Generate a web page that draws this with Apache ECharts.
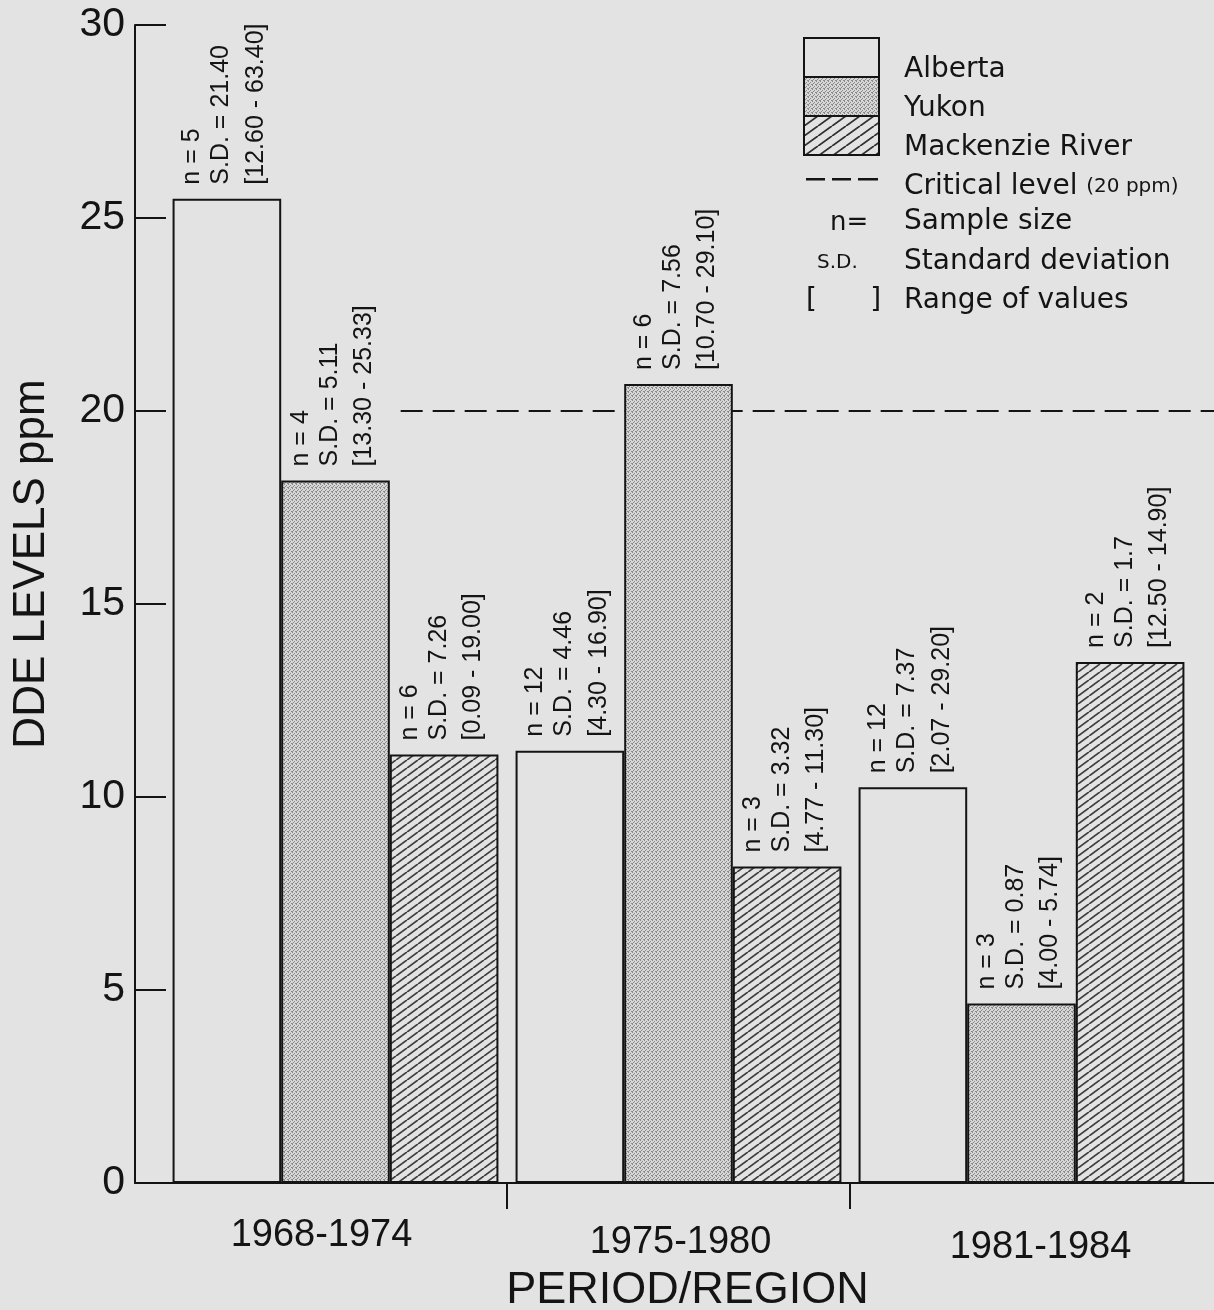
<!DOCTYPE html>
<html><head><meta charset="utf-8">
<script src="https://cdn.jsdelivr.net/npm/echarts@6/dist/echarts.min.js"></script>
<style>html,body{margin:0;padding:0;background:#e3e3e3}#c{width:1214px;height:1310px}</style>
</head><body><div id="c"></div>
<script>
// ---------- data ----------
const periods = ['1968-1974', '1975-1980', '1981-1984'];
const regions = ['Alberta', 'Yukon', 'Mackenzie River'];
const albertaDDE = [25.5, 11.2, 10.25];
const yukonDDE = [18.2, 20.7, 4.65];
const mackenzieDDE = [11.1, 8.2, 13.5];
const albertaN = [5, 12, 12];
const yukonN = [4, 6, 3];
const mackenzieN = [6, 3, 2];
const albertaSD = ['21.40', '4.46', '7.37'];
const yukonSD = ['5.11', '7.56', '0.87'];
const mackenzieSD = ['7.26', '3.32', '1.7'];
const albertaRange = ['12.60 - 63.40', '4.30 - 16.90', '2.07 - 29.20'];
const yukonRange = ['13.30 - 25.33', '10.70 - 29.10', '4.00 - 5.74'];
const mackenzieRange = ['0.09 - 19.00', '4.77 - 11.30', '12.50 - 14.90'];
const criticalLevel = 20;
const criticalName = 'Critical level';
const yMin = 0, yMax = 30, yStep = 5;

// ---------- styles ----------
const BG = '#e3e3e3';
const INK = '#141414';
const SANS = 'Liberation Sans, Arial, sans-serif';
const WIDE = 'DejaVu Sans, sans-serif';

function hatch(w, h, lw, color, bg) {
  const c = document.createElement('canvas');
  c.width = w; c.height = h;
  const g = c.getContext('2d');
  g.fillStyle = bg; g.fillRect(0, 0, w, h);
  g.strokeStyle = color; g.lineWidth = lw;
  g.beginPath();
  for (const dx of [-w, 0, w]) { g.moveTo(dx, h); g.lineTo(dx + w, 0); }
  g.stroke();
  return c;
}
function stipple(bg, dot) {
  const c = document.createElement('canvas');
  c.width = 4; c.height = 4;
  const g = c.getContext('2d');
  g.fillStyle = bg; g.fillRect(0, 0, 4, 4);
  g.fillStyle = dot;
  [[0,0],[2,1],[1,2],[3,3],[0,3]].forEach(p => g.fillRect(p[0], p[1], 1, 1));
  return c;
}
const fillAlberta = BG;
const fillYukon = { image: stipple('#d6d6d6', '#8a8a8a'), repeat: 'repeat' };
const fillMack = { image: hatch(11, 8, 1.8, '#404040', BG), repeat: 'repeat' };
const fillMackLegend = { image: hatch(14, 10, 1.8, '#303030', BG), repeat: 'repeat' };
const dashIcon = 'path://M0,0h0.1v0.1h-0.1z M74.9,38.9h0.1v0.1h-0.1z M2,24h19v2.4h-19z M28,24h19v2.4h-19z M54,24h20v2.4h-20z';

// layout (pixels)
const axisX = 135, bandL = 164, bandR = 1193, W = 1214, gridTop = 25, gridBottom = 127;
const bw = (bandR - bandL) / 3;
const xMin0 = (axisX - bandL) / bw, xMax0 = (W - bandL) / bw;

function barSeries(name, values, ns, sds, ranges, fill) {
  return {
    type: 'bar', name: name, xAxisIndex: 1, yAxisIndex: 1, z: 3,
    data: values, barGap: '0%', barCategoryGap: '5%',
    itemStyle: { color: fill, borderColor: INK, borderWidth: 2 },
    label: {
      show: true, position: 'top', distance: 14, rotate: 90,
      align: 'left', verticalAlign: 'middle', color: INK,
      fontFamily: SANS, fontSize: 25,
      formatter: p => `{n|n = ${ns[p.dataIndex]}}\n{s|S.D. = ${sds[p.dataIndex]}}\n{r|[${ranges[p.dataIndex]}]}`,
      rich: {
        n: { fontFamily: SANS, fontSize: 25, lineHeight: 29, color: INK },
        s: { fontFamily: SANS, fontSize: 25, lineHeight: 29, color: INK },
        r: { fontFamily: SANS, fontSize: 25, lineHeight: 40, color: INK }
      }
    }
  };
}

const legendNames = regions.concat([criticalName]);

const chart = echarts.init(document.getElementById('c'), null, { renderer: 'canvas' });
chart.setOption({
  animation: false,
  backgroundColor: BG,
  grid: [
    { left: axisX, right: 0, top: gridTop, bottom: gridBottom, containLabel: false, outerBoundsMode: 'none' },
    { left: bandL, right: W - bandR, top: gridTop, bottom: gridBottom, containLabel: false, outerBoundsMode: 'none' }
  ],
  xAxis: [
    {
      type: 'value', gridIndex: 0, min: xMin0, max: xMax0,
      splitLine: { show: false },
      axisLine: { show: true, onZero: false, lineStyle: { color: INK, width: 2 } },
      axisTick: { show: true, customValues: [1, 2], length: 26, lineStyle: { color: INK, width: 2 } },
      axisLabel: { show: false },
      name: 'PERIOD/REGION', nameLocation: 'middle', nameGap: 85,
      nameTextStyle: { fontFamily: SANS, fontSize: 45, color: INK, padding: [0, 0, 0, 26] }
    },
    {
      type: 'category', gridIndex: 1, data: periods,
      axisLine: { show: false }, axisTick: { show: false },
      axisLabel: {
        margin: 34, color: INK, fontFamily: SANS, fontSize: 38,
        formatter: (v, i) => `{c${i}|${v}}`,
        rich: {
          c0: { fontFamily: SANS, fontSize: 38, color: INK, padding: [0, 28, 0, 0] },
          c1: { fontFamily: SANS, fontSize: 38, color: INK, padding: [7, 0, 0, 4] },
          c2: { fontFamily: SANS, fontSize: 38, color: INK, padding: [12, 0, 0, 38] }
        }
      }
    }
  ],
  yAxis: [
    {
      type: 'value', gridIndex: 0, min: yMin, max: yMax, interval: yStep,
      splitLine: { show: false },
      axisLine: { show: true, onZero: false, lineStyle: { color: INK, width: 2 } },
      axisTick: { show: true, inside: true, length: 31, lineStyle: { color: INK, width: 2 } },
      axisLabel: { margin: 10, color: INK, fontFamily: SANS, fontSize: 41 },
      name: 'DDE LEVELS ppm', nameLocation: 'middle', nameGap: 81, nameRotate: 90,
      nameTextStyle: { fontFamily: SANS, fontSize: 44, color: INK, padding: [0, 0, 0, 80] }
    },
    {
      type: 'value', gridIndex: 1, min: yMin, max: yMax, interval: yStep, show: false
    }
  ],
  legend: [
    {
      // icons column
      orient: 'vertical', left: 803, top: 37, padding: 0,
      itemWidth: 75, itemHeight: 39, itemGap: -2, selectedMode: false,
      data: [
        { name: regions[0], icon: 'rect' },
        { name: regions[1], icon: 'rect' },
        { name: regions[2], icon: 'rect', itemStyle: { color: fillMackLegend } },
        { name: criticalName, icon: dashIcon, itemStyle: { color: INK, borderWidth: 0 } }
      ],
      formatter: () => ''
    },
    {
      // text column
      orient: 'vertical', left: 898, top: 50, padding: 0,
      itemWidth: 1, itemHeight: 39, itemGap: 5.5, selectedMode: false,
      icon: 'none',
      data: legendNames,
      formatter: n => n === criticalName ? `{t|${n}} {u|(20 ppm)}` : `{t|${n}}`,
      textStyle: {
        color: INK, fontFamily: WIDE, fontSize: 28,
        rich: {
          t: { fontFamily: WIDE, fontSize: 28, color: INK },
          u: { fontFamily: WIDE, fontSize: 20, color: INK }
        }
      }
    }
  ],
  graphic: [
    { type: 'text', left: 830, top: 210, style: { text: 'n=', font: '26px DejaVu Sans', fill: INK } },
    { type: 'text', left: 904, top: 208, style: { text: 'Sample size', font: '28px DejaVu Sans', fill: INK } },
    { type: 'text', left: 817, top: 253, style: { text: 'S.D.', font: '20px DejaVu Sans', fill: INK } },
    { type: 'text', left: 904, top: 248, style: { text: 'Standard deviation', font: '28px DejaVu Sans', fill: INK } },
    { type: 'text', left: 806, top: 287, style: { text: '[      ]', font: '28px DejaVu Sans', fill: INK } },
    { type: 'text', left: 904, top: 287, style: { text: 'Range of values', font: '28px DejaVu Sans', fill: INK } }
  ],
  series: [
    {
      type: 'line', name: criticalName, xAxisIndex: 0, yAxisIndex: 0, z: 1,
      symbol: 'none', silent: true,
      data: [[0.69, criticalLevel], [xMax0, criticalLevel]],
      lineStyle: { color: INK, width: 2, type: [22, 10] },
      itemStyle: { color: INK }
    },
    barSeries(regions[0], albertaDDE, albertaN, albertaSD, albertaRange, fillAlberta),
    barSeries(regions[1], yukonDDE, yukonN, yukonSD, yukonRange, fillYukon),
    barSeries(regions[2], mackenzieDDE, mackenzieN, mackenzieSD, mackenzieRange, fillMack)
  ]
});
</script></body></html>
